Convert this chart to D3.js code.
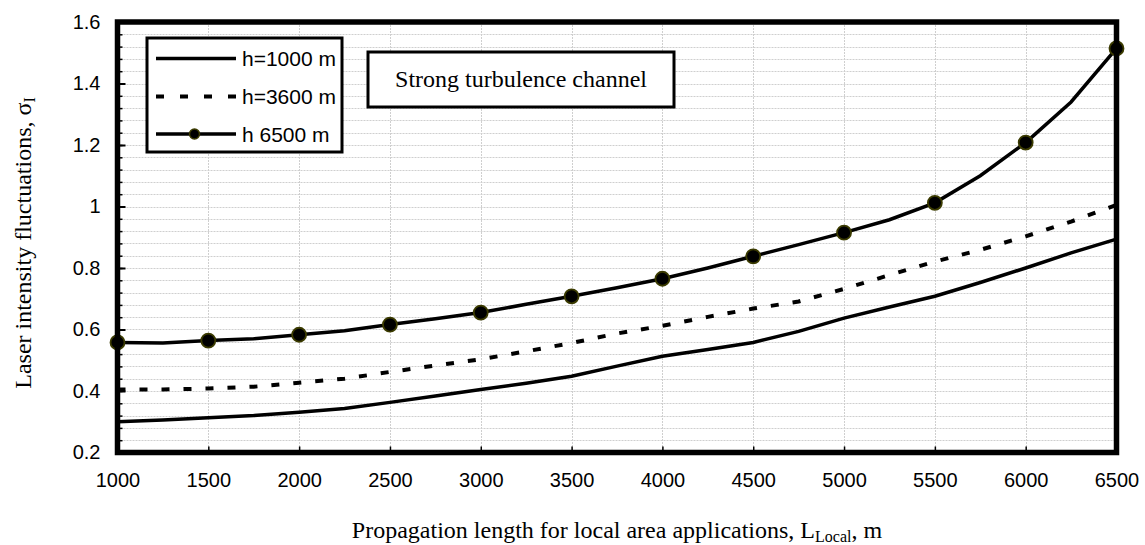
<!DOCTYPE html>
<html>
<head>
<meta charset="utf-8">
<script src="https://cdn.jsdelivr.net/npm/d3@7"></script>
<style>
    body { margin: 0; background: #fff; }
    svg { display: block; }
</style>
</head>
<body>
<div id="chart"></div>
<script>
// values, every 250 m
const lengths = [1000, 1250, 1500, 1750, 2000, 2250, 2500, 2750, 3000, 3250, 3500, 3750,
    4000, 4250, 4500, 4750, 5000, 5250, 5500, 5750, 6000, 6250, 6500];
const h1000 = [0.300, 0.306, 0.313, 0.320, 0.331, 0.343, 0.363, 0.384, 0.405, 0.425, 0.448, 0.481,
    0.513, 0.535, 0.558, 0.594, 0.637, 0.673, 0.708, 0.753, 0.800, 0.849, 0.894];
const h3600 = [0.405, 0.405, 0.408, 0.414, 0.427, 0.440, 0.462, 0.483, 0.503, 0.529, 0.556, 0.587,
    0.612, 0.641, 0.668, 0.691, 0.732, 0.777, 0.821, 0.859, 0.903, 0.951, 1.005];
const h6500 = [0.558, 0.556, 0.564, 0.570, 0.583, 0.596, 0.616, 0.635, 0.655, 0.682, 0.708, 0.736,
    0.765, 0.800, 0.838, 0.876, 0.915, 0.957, 1.012, 1.100, 1.208, 1.340, 1.514];
// markers only sit on every 500 m
const markerLengths = [1000, 1500, 2000, 2500, 3000, 3500, 4000, 4500, 5000, 5500, 6000, 6500];

const xTicks = [1000, 1500, 2000, 2500, 3000, 3500, 4000, 4500, 5000, 5500, 6000, 6500];
const yTicks = [0.2, 0.4, 0.6, 0.8, 1, 1.2, 1.4, 1.6];
const yMinorTicks = d3.range(0, 36).map(i => 0.2 + i * 0.04);

const seriesNames = ["h=1000 m", "h=3600 m", "h 6500 m"];
const noteText = "Strong turbulence channel";

const width = 1145, height = 545;
const plot = { left: 117.5, right: 1116.5, top: 22, bottom: 452.5 };

const x = d3.scaleLinear().domain([1000, 6500]).range([plot.left, plot.right]);
const y = d3.scaleLinear().domain([0.2, 1.6]).range([plot.bottom, plot.top]);

const svg = d3.select("#chart").append("svg")
    .attr("width", width)
    .attr("height", height);

// grid
const grid = svg.append("g").attr("stroke", "#cfcfcf").attr("stroke-width", 1).attr("stroke-dasharray", "2,1");
grid.selectAll("line.h")
    .data(yMinorTicks.slice(1, -1))
    .join("line")
    .attr("x1", plot.left).attr("x2", plot.right)
    .attr("y1", d => Math.round(y(d)) + 0.5).attr("y2", d => Math.round(y(d)) + 0.5);
grid.selectAll("line.v")
    .data(xTicks.slice(1, -1))
    .join("line")
    .attr("class", "v")
    .attr("y1", plot.top).attr("y2", plot.bottom)
    .attr("x1", d => Math.round(x(d)) + 0.5).attr("x2", d => Math.round(x(d)) + 0.5);

// axes
const fontSans = "'Liberation Sans', Arial, sans-serif";
const fontSerif = "'Liberation Serif', 'Times New Roman', serif";

const yMinor = svg.append("g")
    .attr("transform", `translate(${plot.left},0)`)
    .call(d3.axisLeft(y).tickValues(yMinorTicks).tickSize(-5).tickFormat(""));
yMinor.select(".domain").remove();
yMinor.selectAll("line").attr("stroke", "#000").attr("stroke-width", 1.5);

const yAxis = svg.append("g")
    .attr("transform", `translate(${plot.left},0)`)
    .call(d3.axisLeft(y).tickValues(yTicks).tickSize(-8).tickPadding(17).tickFormat(d => String(d)));
yAxis.select(".domain").remove();
yAxis.selectAll("line").attr("stroke", "#000").attr("stroke-width", 2);
yAxis.selectAll("text").attr("font-family", fontSans).attr("font-size", 20).attr("fill", "#000");

const xAxis = svg.append("g")
    .attr("transform", `translate(0,${plot.bottom})`)
    .call(d3.axisBottom(x).tickValues(xTicks).tickSize(-6).tickPadding(20).tickFormat(d => String(d)));
xAxis.select(".domain").remove();
xAxis.selectAll("line").attr("stroke", "#000").attr("stroke-width", 1.5);
xAxis.selectAll("text").attr("font-family", fontSans).attr("font-size", 20).attr("fill", "#000");

// series
const lineGen = d3.line().x(d => x(d[0])).y(d => y(d[1]));
const zip = vals => lengths.map((l, i) => [l, vals[i]]);

svg.append("path").datum(zip(h1000))
    .attr("d", lineGen).attr("fill", "none").attr("stroke", "#000").attr("stroke-width", 3.5);
svg.append("path").datum(zip(h3600))
    .attr("d", lineGen).attr("fill", "none").attr("stroke", "#000").attr("stroke-width", 4)
    .attr("stroke-dasharray", "8,14");
svg.append("path").datum(zip(h6500))
    .attr("d", lineGen).attr("fill", "none").attr("stroke", "#000").attr("stroke-width", 3.5);

svg.selectAll("circle.mk")
    .data(markerLengths.map(l => [l, h6500[lengths.indexOf(l)]]))
    .join("circle")
    .attr("class", "mk")
    .attr("cx", d => x(d[0])).attr("cy", d => y(d[1]))
    .attr("r", 7)
    .attr("fill", "#000").attr("stroke", "#3b3b00").attr("stroke-width", 1.8);

// plot frame
svg.append("rect")
    .attr("x", plot.left).attr("y", plot.top)
    .attr("width", plot.right - plot.left).attr("height", plot.bottom - plot.top)
    .attr("fill", "none").attr("stroke", "#000").attr("stroke-width", 5.5);

// legend
const legend = svg.append("g");
legend.append("rect")
    .attr("x", 147).attr("y", 38).attr("width", 195).attr("height", 114)
    .attr("fill", "#fff").attr("stroke", "#000").attr("stroke-width", 3);
const legendY = [58.5, 96.5, 134];
seriesNames.forEach((name, i) => {
    const ln = legend.append("line")
        .attr("x1", 156).attr("x2", 236)
        .attr("y1", legendY[i]).attr("y2", legendY[i])
        .attr("stroke", "#000").attr("stroke-width", i === 1 ? 4 : 3.5);
    if (i === 1) ln.attr("stroke-dasharray", "8,16");
    if (i === 2) {
        legend.append("circle")
            .attr("cx", 194.5).attr("cy", legendY[i]).attr("r", 5)
            .attr("fill", "#000").attr("stroke", "#3b3b00").attr("stroke-width", 1.5);
    }
    legend.append("text")
        .attr("x", 242).attr("y", legendY[i]).attr("dy", "0.36em")
        .attr("font-family", fontSans).attr("font-size", 21)
        .text(name);
});

// note box
svg.append("rect")
    .attr("x", 368).attr("y", 52).attr("width", 306).attr("height", 55)
    .attr("fill", "#fff").attr("stroke", "#000").attr("stroke-width", 3);
svg.append("text")
    .attr("x", 521).attr("y", 87)
    .attr("text-anchor", "middle")
    .attr("font-family", fontSerif).attr("font-size", 24)
    .text(noteText);

// axis titles
const xTitle = svg.append("text")
    .attr("x", (plot.left + plot.right) / 2).attr("y", 538)
    .attr("text-anchor", "middle")
    .attr("font-family", fontSerif).attr("font-size", 24);
xTitle.append("tspan").text("Propagation length for local area applications, L");
xTitle.append("tspan").attr("font-size", 16).attr("dy", 4).text("Local");
xTitle.append("tspan").attr("dy", -4).text(", m");

const yTitle = svg.append("text")
    .attr("transform", `translate(31,243) rotate(-90)`)
    .attr("text-anchor", "middle")
    .attr("font-family", fontSerif).attr("font-size", 24);
yTitle.append("tspan").text("Laser intensity fluctuations, σ");
yTitle.append("tspan").attr("font-size", 16).attr("dy", 4).text("I");
</script>
</body>
</html>
